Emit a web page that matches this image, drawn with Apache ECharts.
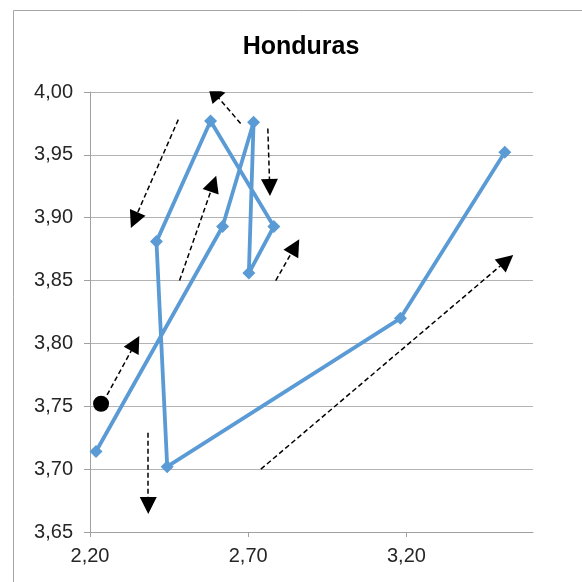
<!DOCTYPE html>
<html>
<head>
<meta charset="utf-8">
<script src="https://cdn.jsdelivr.net/npm/echarts@6/dist/echarts.min.js"></script>
<style>
  html, body { margin: 0; padding: 0; background: #fff; }
  #chart { width: 582px; height: 582px; }
</style>
</head>
<body>
<div id="chart"></div>
<script>
// trajectory (x, y) in drawing order
const xValues = [2.219, 2.619, 2.717, 2.702, 2.781, 2.581, 2.410, 2.444, 3.181, 3.511];
const yValues = [3.714, 3.893, 3.976, 3.856, 3.893, 3.977, 3.881, 3.702, 3.820, 3.952];
// starting point (black dot)
const startPoint = [2.235, 3.752];
// dashed arrows: from -> to
const arrowFrom = [
  [2.254, 3.759], [2.384, 3.729], [2.740, 3.700], [2.483, 3.850],
  [2.479, 3.978], [2.676, 3.975], [2.762, 3.971], [2.787, 3.850]
];
const arrowTo = [
  [2.343, 3.800], [2.384, 3.671], [3.517, 3.866], [2.590, 3.927],
  [2.340, 3.898], [2.590, 4.000], [2.768, 3.924], [2.848, 3.877]
];
const xTicks = [2.2, 2.7, 3.2];

const fmt = (v) => v.toFixed(2).replace('.', ',');
const font = 'Liberation Sans, Arial, sans-serif';

const chart = echarts.init(document.getElementById('chart'));
chart.setOption({
  animation: false,
  title: {
    text: 'Honduras',
    left: 296,
    textAlign: 'center',
    top: 30,
    textStyle: { fontFamily: font, fontSize: 25, fontWeight: 'bold', color: '#000' }
  },
  graphic: [{
    type: 'rect',
    shape: { x: 13.5, y: 10.5, width: 600, height: 600 },
    style: { fill: 'none', stroke: '#a6a6a6', lineWidth: 1 },
    silent: true
  }],
  grid: { left: 90, top: 92, right: 49, bottom: 50 },
  xAxis: {
    type: 'value',
    min: 2.2,
    max: 3.6,
    interval: 0.5,
    axisLine: { show: true, onZero: false, lineStyle: { color: '#a0a0a0', width: 1 } },
    axisTick: { show: true, length: 5, customValues: xTicks, lineStyle: { color: '#a0a0a0' } },
    axisLabel: {
      customValues: xTicks,
      margin: 14,
      fontFamily: font, fontSize: 20, color: '#262626',
      formatter: fmt
    },
    splitLine: { show: false }
  },
  yAxis: {
    type: 'value',
    min: 3.65,
    max: 4.0,
    interval: 0.05,
    axisLine: { show: true, onZero: false, lineStyle: { color: '#a0a0a0', width: 1 } },
    axisTick: { show: true, length: 6, lineStyle: { color: '#a0a0a0' } },
    axisLabel: {
      margin: 17,
      fontFamily: font, fontSize: 20, color: '#262626',
      formatter: fmt
    },
    splitLine: { show: true, lineStyle: { color: '#b3b3b3', width: 1 } }
  },
  series: [
    {
      type: 'line',
      data: xValues.map((x, i) => [x, yValues[i]]),
      symbol: 'diamond',
      symbolSize: 13,
      lineStyle: { color: '#5b9bd5', width: 3.8 },
      itemStyle: { color: '#5b9bd5' },
      z: 3
    },
    {
      type: 'scatter',
      data: [startPoint],
      symbol: 'circle',
      symbolSize: 16,
      itemStyle: { color: '#000', opacity: 1 },
      z: 4
    },
    {
      type: 'lines',
      coordinateSystem: 'cartesian2d',
      data: arrowFrom.map((p, i) => ({ coords: [p, arrowTo[i]] })),
      symbol: ['none', 'triangle'],
      symbolSize: [0, 17],
      lineStyle: { color: '#000', width: 1.5, type: [5, 3], opacity: 1 },
      itemStyle: { color: '#000' },
      z: 5
    }
  ]
});
</script>
</body>
</html>
